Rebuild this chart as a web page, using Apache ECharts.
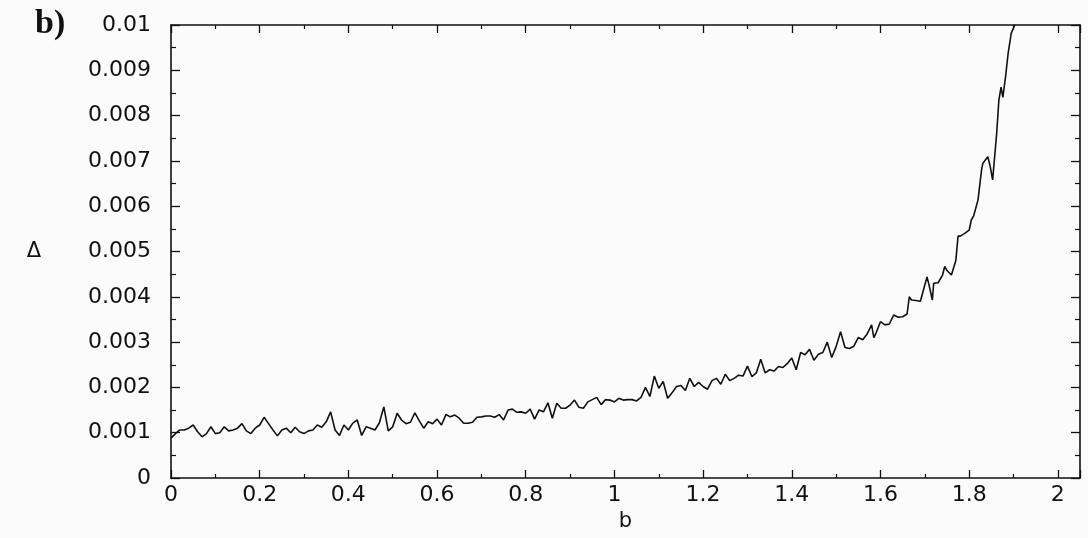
<!DOCTYPE html>
<html>
<head>
<meta charset="utf-8">
<script src="https://cdn.jsdelivr.net/npm/echarts@6/dist/echarts.min.js"></script>
<style>
html,body{margin:0;padding:0;background:#fbfbfb;}
#chart{width:1088px;height:538px;}
</style>
</head>
<body>
<div id="chart"></div>
<script>
// b values (x) and Delta values (y)
const bValues = [
0.00,0.01,0.02,0.03,0.04,0.05,0.06,0.07,0.08,0.09,
0.10,0.11,0.12,0.13,0.14,0.15,0.16,0.17,0.18,0.19,
0.20,0.21,0.22,0.23,0.24,0.25,0.26,0.27,0.28,0.29,
0.30,0.31,0.32,0.33,0.34,0.35,0.36,0.37,0.38,0.39,
0.40,0.41,0.42,0.43,0.44,0.45,0.46,0.47,0.48,0.49,
0.50,0.51,0.52,0.53,0.54,0.55,0.56,0.57,0.58,0.59,
0.60,0.61,0.62,0.63,0.64,0.65,0.66,0.67,0.68,0.69,
0.70,0.71,0.72,0.73,0.74,0.75,0.76,0.77,0.78,0.79,
0.80,0.81,0.82,0.83,0.84,0.85,0.86,0.87,0.88,0.89,
0.90,0.91,0.92,0.93,0.94,0.95,0.96,0.97,0.98,0.99,
1.00,1.01,1.02,1.03,1.04,1.05,1.06,1.07,1.08,1.09,
1.10,1.11,1.12,1.13,1.14,1.15,1.16,1.17,1.18,1.19,
1.20,1.21,1.22,1.23,1.24,1.25,1.26,1.27,1.28,1.29,
1.30,1.31,1.32,1.33,1.34,1.35,1.36,1.37,1.38,1.39,
1.40,1.41,1.42,1.43,1.44,1.45,1.46,1.47,1.48,1.49,
1.50,1.51,1.52,1.53,1.54,1.55,1.56,1.57,1.58,1.585,1.59,
1.60,1.61,1.62,1.63,1.64,1.65,1.66,1.665,1.67,1.68,1.69,
1.70,1.705,1.71,1.717,1.72,1.73,1.74,1.745,1.75,1.76,1.77,1.775,1.78,1.79,
1.80,1.805,1.81,1.82,1.828,1.831,1.842,1.847,1.853,1.862,1.867,1.872,1.876,1.882,1.888,1.895,1.903
];
const deltaValues = [
0.00088,0.00098,0.00106,0.00106,0.00110,0.00117,0.00102,0.00091,0.00098,0.00113,
0.00098,0.00100,0.00113,0.00104,0.00106,0.00110,0.00120,0.00104,0.00098,0.00110,
0.00117,0.00134,0.00120,0.00106,0.00093,0.00106,0.00110,0.00100,0.00112,0.00102,
0.00098,0.00104,0.00106,0.00117,0.00112,0.00124,0.00146,0.00106,0.00094,0.00117,
0.00106,0.00121,0.00128,0.00094,0.00113,0.00110,0.00106,0.00122,0.00157,0.00104,
0.00113,0.00143,0.00128,0.00120,0.00123,0.00144,0.00126,0.00110,0.00124,0.00120,
0.00130,0.00117,0.00140,0.00135,0.00139,0.00132,0.00121,0.00121,0.00123,0.00134,
0.00135,0.00137,0.00137,0.00134,0.00140,0.00128,0.00150,0.00152,0.00145,0.00146,
0.00143,0.00152,0.00130,0.00150,0.00146,0.00166,0.00132,0.00165,0.00154,0.00154,
0.00161,0.00172,0.00156,0.00154,0.00168,0.00173,0.00178,0.00162,0.00173,0.00172,
0.00168,0.00176,0.00172,0.00173,0.00173,0.00170,0.00178,0.00200,0.00180,0.00225,
0.00198,0.00213,0.00176,0.00188,0.00202,0.00204,0.00193,0.00220,0.00202,0.00211,
0.00202,0.00196,0.00215,0.00220,0.00207,0.00229,0.00215,0.00220,0.00227,0.00225,
0.00247,0.00224,0.00232,0.00262,0.00232,0.00239,0.00236,0.00246,0.00244,0.00253,
0.00265,0.00239,0.00277,0.00272,0.00284,0.00260,0.00273,0.00277,0.00300,0.00266,
0.00290,0.00323,0.00288,0.00286,0.00291,0.00310,0.00305,0.00318,0.00338,0.00310,0.00320,
0.00345,0.00338,0.00340,0.00360,0.00355,0.00356,0.00362,0.00400,0.00393,0.00392,0.00390,
0.00426,0.00444,0.00424,0.00393,0.00430,0.00431,0.00448,0.00467,0.00458,0.00448,0.00480,0.00534,0.00534,0.00540,
0.00547,0.00570,0.00578,0.00614,0.00680,0.00695,0.00709,0.00690,0.00658,0.00760,0.00834,0.00863,0.00840,0.00885,0.00938,0.00982,0.01000
];
const panelLabel = 'b)';
const xName = 'b';
const yName = 'Δ';

const points = bValues.map((b, i) => [b, deltaValues[i]]);

const labelFont = 'DejaVu Sans';
const ink = '#111';

function xAxisDef(pos, showLabels) {
  return {
    type: 'value', position: pos, min: 0, max: 2.05, interval: 0.2,
    axisLine: {show: true, onZero: false, lineStyle: {color: ink, width: 1.6}},
    axisTick: {show: true, inside: true, length: 8, lineStyle: {color: ink, width: 1.3}},
    minorTick: {show: true, splitNumber: 2, length: 4, lineStyle: {color: ink, width: 1.2}},
    splitLine: {show: false},
    axisLabel: {show: showLabels, showMaxLabel: false, margin: 6, color: ink,
      fontFamily: labelFont, fontSize: 22},
    name: showLabels ? xName : '',
    nameLocation: 'middle', nameGap: 30,
    nameTextStyle: {fontFamily: labelFont, fontSize: 21, color: ink}
  };
}
function yAxisDef(pos, showLabels) {
  return {
    type: 'value', position: pos, min: 0, max: 0.01, interval: 0.001,
    axisLine: {show: true, onZero: false, lineStyle: {color: ink, width: 1.6}},
    axisTick: {show: true, inside: true, length: 9, lineStyle: {color: ink, width: 1.3}},
    minorTick: {show: true, splitNumber: 2, length: 5, lineStyle: {color: ink, width: 1.2}},
    splitLine: {show: false},
    axisLabel: {show: showLabels, margin: 20, color: ink,
      fontFamily: labelFont, fontSize: 22},
    name: showLabels ? yName : '',
    nameLocation: 'middle', nameRotate: 0, nameGap: 130,
    nameTextStyle: {fontFamily: labelFont, fontSize: 21, color: ink}
  };
}

const chart = echarts.init(document.getElementById('chart'), null, {renderer: 'canvas'});
chart.setOption({
  animation: false,
  backgroundColor: '#fbfbfb',
  title: {
    text: panelLabel, left: 30, top: 2,
    textStyle: {fontFamily: 'Liberation Serif', fontWeight: 'bold', fontSize: 34, color: ink}
  },
  grid: {left: 171, right: 8, top: 25, bottom: 60, containLabel: false},
  xAxis: [xAxisDef('bottom', true), xAxisDef('top', false)],
  yAxis: [yAxisDef('left', true), yAxisDef('right', false)],
  series: [{
    type: 'line', xAxisIndex: 0, yAxisIndex: 0,
    data: points, showSymbol: false, symbol: 'none',
    lineStyle: {color: ink, width: 1.6},
    clip: true
  }]
});
</script>
</body>
</html>
